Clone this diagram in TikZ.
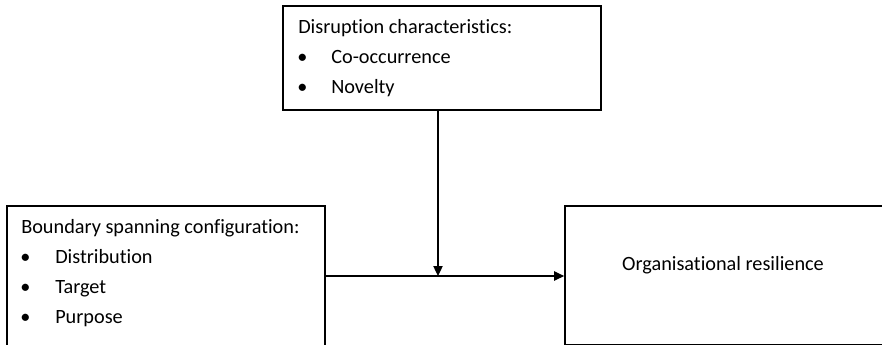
\documentclass[tikz,border=0pt]{standalone}
\usepackage{fontspec}
\setmainfont{Carlito}[Ligatures={NoCommon}]
\usetikzlibrary{arrows.meta}
\begin{document}
\begin{tikzpicture}[x=0.75pt,y=-0.75pt,
  box/.style={draw=black, line width=1.3pt, fill=none, inner sep=0pt},
  txt/.style={anchor=base west, inner sep=0pt, font=\fontsize{15.2}{18}\selectfont},
  conn/.style={draw=black, line width=0.9pt},
  tip/.style={-{Triangle[length=7.5pt,width=7pt]}}]
\useasboundingbox (0,0) rectangle (882,344);
% boxes
\node[box, minimum width=318*0.75pt, minimum height=104*0.75pt] (top) at (442,58) {};
\node[box, minimum width=318*0.75pt, minimum height=144*0.75pt] (left) at (166,278) {};
\node[box, minimum width=318*0.75pt, minimum height=138.5*0.75pt] (right) at (724,275.25) {};
% top box text
\node[txt] (th) at (298,33) {Disruption characteristics:};
\node[txt] (tb1) at (297,63) {•};
\node[txt] (tt1) at (331,63) {Co-occurrence};
\node[txt] (tb2) at (297,93) {•};
\node[txt] (tt2) at (331,93) {Novelty};
% left box text
\node[txt] (lh) at (21,233) {Boundary spanning configuration:};
\node[txt] (lb1) at (20,263) {•};
\node[txt] (lt1) at (55,263) {Distribution};
\node[txt] (lb2) at (20,293) {•};
\node[txt] (lt2) at (55,293) {Target};
\node[txt] (lb3) at (20,323) {•};
\node[txt] (lt3) at (55,323) {Purpose};
% right box text
\node[txt, anchor=base] (rt) at (723,270) {Organisational resilience};
% connectors
\coordinate (j) at (438,276);
\draw[conn, tip] (j |- top.south) -- (j);
\draw[conn, tip] (left.east |- j) -- (right.west |- j);
\end{tikzpicture}
\end{document}
